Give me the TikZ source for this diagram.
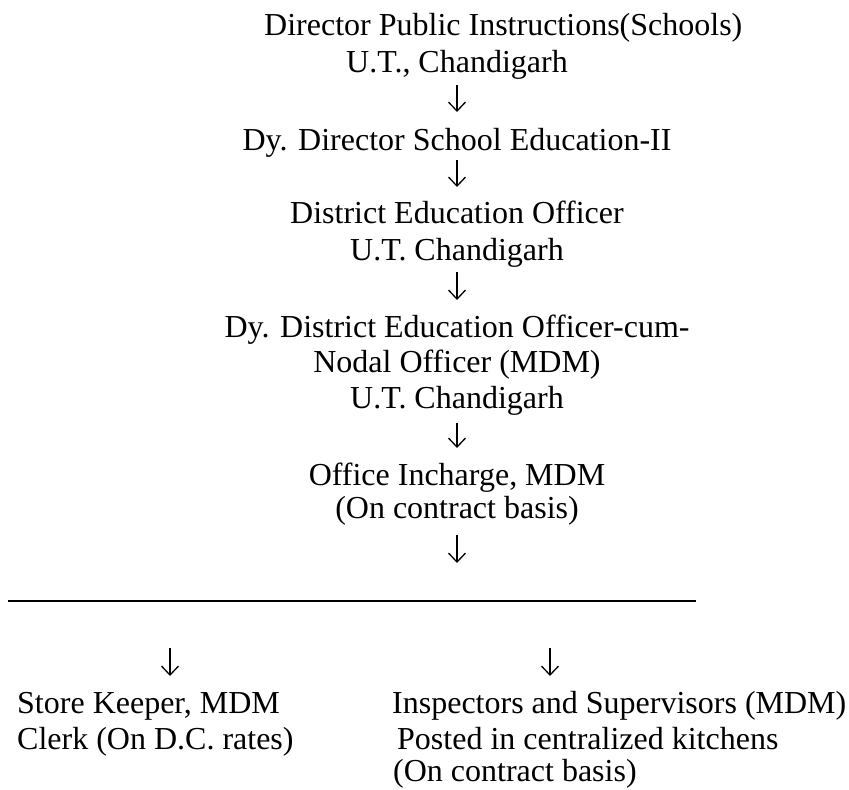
\documentclass[tikz,border=0pt]{standalone}
\usepackage{fontspec}
\setmainfont{Liberation Serif}
\usetikzlibrary{arrows.meta}
\begin{document}
\begin{tikzpicture}[x=1pt,y=-1pt,
  lbl/.style={inner sep=0pt, anchor=base, font=\fontsize{32}{37}\selectfont},
  lblw/.style={lbl, anchor=base west},
  arr/.style={-{Straight Barb[length=9pt,width=17pt]}, line width=1.3pt},
  rulestyle/.style={line width=1.5pt}]
\useasboundingbox[fill=white] (0,0) rectangle (849,790);
% main column
\node[lblw] (dpi)   at (264,35)  {Director Public Instructions(Schools)};
\node[lbl]  (ut1)   at (457,72)  {U.T., Chandigarh};
\node[lbl]  (dds)   at (457,150) {Dy. Director School Education-II};
\node[lbl]  (deo)   at (457,223) {District Education Officer};
\node[lbl]  (ut2)   at (457,260) {U.T. Chandigarh};
\node[lbl]  (ddeo)  at (457,337) {Dy. District Education Officer-cum-};
\node[lbl]  (nodal) at (457,372) {Nodal Officer (MDM)};
\node[lbl]  (ut3)   at (457,408) {U.T. Chandigarh};
\node[lbl]  (oi)    at (457,485) {Office Incharge, MDM};
\node[lbl]  (oic)   at (457,518) {(On contract basis)};
% arrows
\draw[arr] ([yshift=-13pt]ut1.base) -- ([yshift=38pt]dds.base);
\draw[arr] ([yshift=-10pt]dds.base) -- ([yshift=36pt]deo.base);
\draw[arr] ([yshift=-12pt]ut2.base) -- ([yshift=37pt]ddeo.base);
\draw[arr] ([yshift=-15pt]ut3.base) -- ([yshift=37pt]oi.base);
\draw[arr] ([yshift=-17pt]oic.base) -- ([yshift=-45pt]oic.base);
% horizontal rule
\coordinate (hl) at (8,601);
\coordinate (hr) at (696,601);
\draw[rulestyle] (hl) -- (hr);
\coordinate (la) at (170,601);
\coordinate (ra) at (550,601);
\draw[arr] ([yshift=-47pt]la) -- ([yshift=-75pt]la);
\draw[arr] ([yshift=-47pt]ra) -- ([yshift=-75pt]ra);
% bottom blocks
\node[lblw] (sk)  at (17,713)  {Store Keeper, MDM};
\node[lblw] (clk) at (17,749)  {Clerk (On D.C. rates)};
\node[lblw] (isp) at (392,713) {Inspectors and Supervisors (MDM)};
\node[lblw] (pst) at (397,749) {Posted in centralized kitchens};
\node[lblw] (occ) at (393,781) {(On contract basis)};
\end{tikzpicture}
\end{document}
